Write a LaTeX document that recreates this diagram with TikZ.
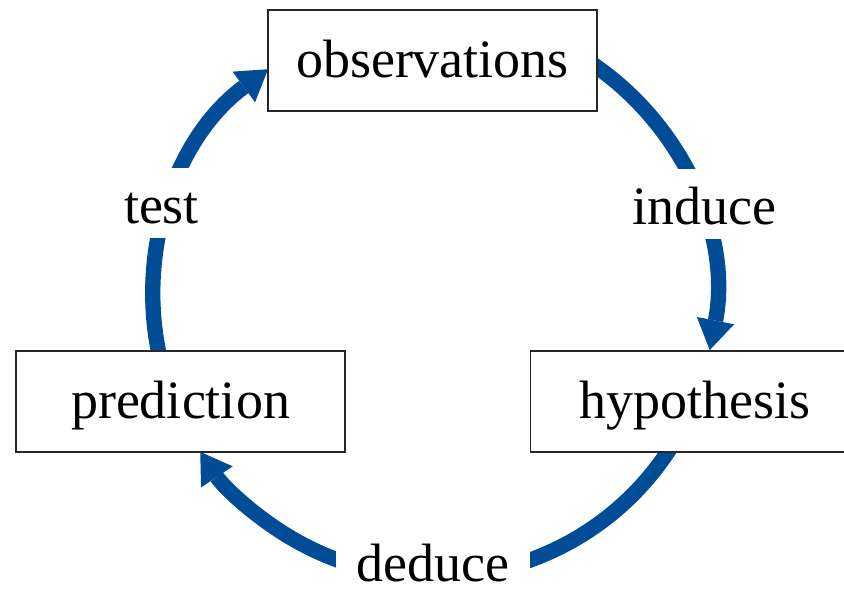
\documentclass[tikz,border=0pt]{standalone}
\usepackage{fontspec}
\setmainfont{Liberation Serif}
\usetikzlibrary{arrows.meta}
\definecolor{cycleblue}{RGB}{0,76,150}
\begin{document}
\begin{tikzpicture}[x=0.75pt,y=0.75pt,
  font=\fontsize{40.5pt}{48pt}\selectfont,
  flow/.style={draw=cycleblue,line width=11.5pt,line cap=butt,
    -{Triangle[length=22.5pt,width=28.5pt,line width=0pt]}},
  stage/.style={draw=black!85,line width=1pt,fill=white,inner sep=0pt,
    minimum width=246.75pt,minimum height=75.75pt,
    text height=51pt,text depth=24.75pt},
  steplabel/.style={fill=white,inner ysep=0pt,inner xsep=15.75pt,
    text height=42pt,text depth=10.5pt,anchor=base}]
\useasboundingbox (0,0) rectangle (844,590);
\coordinate (c) at (434,294);
% connectors (arcs round the centre of the cycle)
\draw[flow] ([shift={(60:281)}]c) arc[start angle=60,end angle=-11.1,radius=281];
\draw[flow] ([shift={(-30:281)}]c) arc[start angle=-30,end angle=-146.3,radius=281];
\draw[flow] ([shift={(195:281)}]c) arc[start angle=195,end angle=126.2,radius=281];
% labels
\node[steplabel] (induce) at (704.5,365) {induce};
\node[steplabel,text depth=6pt] (deduce) at (433,8) {deduce};
\node[steplabel] (test) at (161.5,366) {test};
% boxes
\node[stage] (obs) at (432.5,529.5) {observations};
\node[stage] (hyp) at (695,188.5) {hypothesis};
\node[stage] (pred) at (180.5,188.5) {prediction};
\end{tikzpicture}
\end{document}
